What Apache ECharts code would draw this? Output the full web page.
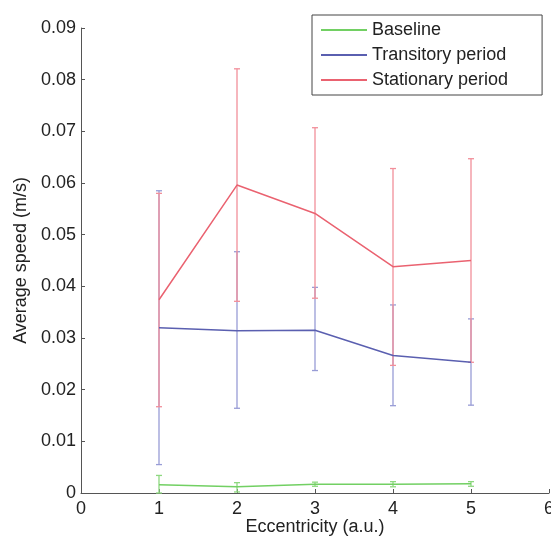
<!DOCTYPE html>
<html>
<head>
<meta charset="utf-8">
<script src="https://cdn.jsdelivr.net/npm/echarts@6/dist/echarts.min.js"></script>
<style>html,body{margin:0;padding:0;background:#fff}#c{width:551px;height:539px}</style>
</head>
<body>
<div id="c"></div>
<script>
const eccentricity = [1, 2, 3, 4, 5];
const xTicks = [0, 1, 2, 3, 4, 5, 6];
const yTicks = [0, 0.01, 0.02, 0.03, 0.04, 0.05, 0.06, 0.07, 0.08, 0.09];

const baselineMean  = [0.0016, 0.0012, 0.0017, 0.0017, 0.0018];
const baselineLow   = [0.0000, 0.0002, 0.0013, 0.0012, 0.0013];
const baselineHigh  = [0.0034, 0.0020, 0.0021, 0.0022, 0.0022];

const transMean = [0.0320, 0.0314, 0.0315, 0.0266, 0.0253];
const transLow  = [0.0055, 0.0164, 0.0237, 0.0169, 0.0170];
const transHigh = [0.0585, 0.0467, 0.0398, 0.0364, 0.0337];

const statMean = [0.0374, 0.0596, 0.0541, 0.0438, 0.0450];
const statLow  = [0.0167, 0.0371, 0.0377, 0.0247, 0.0253];
const statHigh = [0.0580, 0.0821, 0.0707, 0.0628, 0.0647];

const seriesNames = ['Baseline', 'Transitory period', 'Stationary period'];

const FONT = 'Liberation Sans';
const colors = {
  line: ['#72d063', '#5a5fb0', '#ea6270'],
  bar:  ['#8ed880', '#989cd6', '#f28f9a']
};

function errSeries(name, lows, highs, color) {
  return {
    type: 'custom',
    name: name + ' err',
    data: eccentricity.map((x, i) => [x, lows[i], highs[i]]),
    encode: { x: 0, y: [1, 2] },
    silent: true,
    z: 2,
    renderItem: function (params, api) {
      const x = api.value(0);
      const lo = api.coord([x, api.value(1)]);
      const hi = api.coord([x, api.value(2)]);
      const cw = 3;
      const st = { stroke: color, lineWidth: 1.3 };
      return {
        type: 'group',
        children: [
          { type: 'line', shape: { x1: lo[0], y1: lo[1], x2: hi[0], y2: hi[1] }, style: st },
          { type: 'line', shape: { x1: hi[0] - cw, y1: hi[1], x2: hi[0] + cw, y2: hi[1] }, style: st },
          { type: 'line', shape: { x1: lo[0] - cw, y1: lo[1], x2: lo[0] + cw, y2: lo[1] }, style: st }
        ]
      };
    }
  };
}

function lineSeries(name, means, color) {
  return {
    type: 'line',
    name: name,
    data: eccentricity.map((x, i) => [x, means[i]]),
    symbol: 'none',
    showSymbol: false,
    z: 3,
    lineStyle: { color: color, width: 1.5 },
    itemStyle: { color: color }
  };
}

const chart = echarts.init(document.getElementById('c'), null, { renderer: 'canvas' });
chart.setOption({
  animation: false,
  backgroundColor: '#fff',
  textStyle: { fontFamily: FONT },
  grid: { left: 81, right: 2, top: 28, bottom: 46, containLabel: false, outerBoundsMode: 'none' },
  legend: {
    data: seriesNames,
    orient: 'vertical',
    left: 312,
    top: 15,
    padding: [6, 34, 6, 8],
    itemWidth: 46,
    itemHeight: 12,
    itemGap: 7,
    borderColor: '#444',
    borderWidth: 1,
    backgroundColor: '#fff',
    itemStyle: { opacity: 0 },
    textStyle: { fontFamily: FONT, fontSize: 18, color: '#222' }
  },
  xAxis: {
    type: 'value',
    min: xTicks[0],
    max: xTicks[xTicks.length - 1],
    interval: 1,
    name: 'Eccentricity (a.u.)',
    nameLocation: 'middle',
    nameGap: 25,
    nameMoveOverlap: false,
    nameTextStyle: { fontFamily: FONT, fontSize: 18, color: '#222', verticalAlign: 'top', lineHeight: 18 },
    axisLine: { lineStyle: { color: '#555', width: 1 } },
    axisTick: { inside: true, length: 4, lineStyle: { color: '#555' } },
    axisLabel: { fontFamily: FONT, fontSize: 18, color: '#222', margin: 7 },
    splitLine: { show: false }
  },
  yAxis: {
    type: 'value',
    min: yTicks[0],
    max: yTicks[yTicks.length - 1],
    interval: 0.01,
    name: 'Average speed (m/s)',
    nameLocation: 'middle',
    nameGap: 51,
    nameMoveOverlap: false,
    nameTextStyle: { fontFamily: FONT, fontSize: 18, color: '#222' },
    axisLine: { show: true, lineStyle: { color: '#555', width: 1 } },
    axisTick: { show: true, inside: true, length: 4, lineStyle: { color: '#555' } },
    axisLabel: {
      fontFamily: FONT, fontSize: 18, color: '#222', margin: 5,
      formatter: v => (Math.abs(v) < 1e-9 ? '0' : v.toFixed(2))
    },
    splitLine: { show: false }
  },
  series: [
    errSeries(seriesNames[0], baselineLow, baselineHigh, colors.bar[0]),
    errSeries(seriesNames[1], transLow, transHigh, colors.bar[1]),
    errSeries(seriesNames[2], statLow, statHigh, colors.bar[2]),
    lineSeries(seriesNames[0], baselineMean, colors.line[0]),
    lineSeries(seriesNames[1], transMean, colors.line[1]),
    lineSeries(seriesNames[2], statMean, colors.line[2])
  ]
});
</script>
</body>
</html>
